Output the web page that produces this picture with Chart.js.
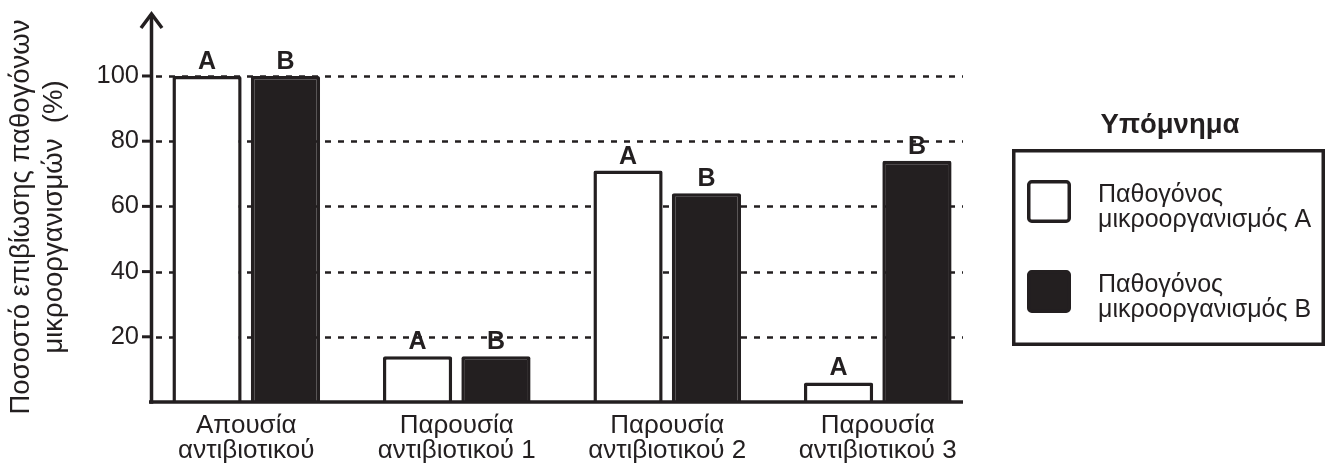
<!DOCTYPE html>
<html>
<head>
<meta charset="utf-8">
<script src="https://cdn.jsdelivr.net/npm/chart.js@4.4.1/dist/chart.umd.min.js"></script>
<style>
  html, body { margin: 0; padding: 0; background: #fff; }
  #chart { display: block; }
</style>
</head>
<body>
<canvas id="chart" width="1330" height="472"></canvas>
<script>
const categories = [
  ["Απουσία", "αντιβιοτικού"],
  ["Παρουσία", "αντιβιοτικού 1"],
  ["Παρουσία", "αντιβιοτικού 2"],
  ["Παρουσία", "αντιβιοτικού 3"],
];
const seriesA = [100, 14, 71, 6];
const seriesB = [100, 14, 64, 74];
const seriesNames = [
  ["Παθογόνος", "μικροοργανισμός Α"],
  ["Παθογόνος", "μικροοργανισμός Β"],
];
const barTags = ["A", "B"];
const yTicks = [20, 40, 60, 80, 100];
const yTitle = ["Ποσοστό επιβίωσης παθογόνων", "μικροοργανισμών  (%)"];
const legendTitle = "Υπόμνημα";

const ink = "#231f20";
const font = "'Liberation Sans', Arial, sans-serif";

// grid, axes with arrow, bar tags, y title and legend box
const decor = {
  id: "decor",
  beforeDatasetsDraw(chart) {
    const ctx = chart.ctx;
    const y = chart.scales.y;
    ctx.save();
    ctx.strokeStyle = ink;
    ctx.lineWidth = 2.5;
    ctx.setLineDash([6, 7]);
    yTicks.forEach((v) => {
      const py = Math.round(y.getPixelForValue(v)) + 0.5;
      ctx.beginPath();
      ctx.moveTo(156, py);
      ctx.lineTo(963, py);
      ctx.stroke();
    });
    ctx.restore();
  },
  afterDraw(chart) {
    const ctx = chart.ctx;
    const y = chart.scales.y;
    const y0 = y.getPixelForValue(0);
    const ax = 151.5;
    ctx.save();
    ctx.strokeStyle = ink;
    ctx.fillStyle = ink;

    // x axis
    ctx.lineWidth = 3.5;
    ctx.beginPath();
    ctx.moveTo(149, y0);
    ctx.lineTo(963, y0);
    ctx.stroke();
    // y axis + arrow
    ctx.beginPath();
    ctx.moveTo(ax, y0 + 1.7);
    ctx.lineTo(ax, 14);
    ctx.stroke();
    ctx.lineJoin = "miter";
    ctx.beginPath();
    ctx.moveTo(141, 28);
    ctx.lineTo(ax, 14);
    ctx.lineTo(162, 28);
    ctx.stroke();
    // tick marks
    ctx.lineWidth = 3;
    yTicks.forEach((v) => {
      const py = y.getPixelForValue(v);
      ctx.beginPath();
      ctx.moveTo(142, py);
      ctx.lineTo(ax, py);
      ctx.stroke();
    });

    // A / B over bars
    ctx.font = "bold 25px " + font;
    ctx.textAlign = "center";
    ctx.textBaseline = "alphabetic";
    chart.data.datasets.forEach((ds, i) => {
      chart.getDatasetMeta(i).data.forEach((bar) => {
        ctx.fillText(barTags[i], bar.x, bar.y - 7);
      });
    });

    // y title
    ctx.font = "27.5px " + font;
    ctx.save();
    ctx.translate(29, 217);
    ctx.rotate(-Math.PI / 2);
    ctx.fillText(yTitle[0], 0, 0);
    ctx.fillText(yTitle[1], 0, 33);
    ctx.restore();

    // legend
    ctx.lineWidth = 3.5;
    ctx.strokeRect(1013.75, 150.75, 309.5, 193.5);
    ctx.font = "bold 27.5px " + font;
    ctx.fillText(legendTitle, 1170, 133);
    ctx.textAlign = "left";
    ctx.font = "25px " + font;
    chart.data.datasets.forEach((ds, i) => {
      const top = 180 + i * 90;
      ctx.beginPath();
      ctx.roundRect(1028.75, top + 1.75, 40.5, 39.5, 3);
      ctx.fillStyle = ds.backgroundColor;
      ctx.fill();
      ctx.stroke();
      ctx.fillStyle = ink;
      ctx.fillText(seriesNames[i][0], 1098, top + 21.7);
      ctx.fillText(seriesNames[i][1], 1098, top + 46.7);
    });
    ctx.restore();
  },
};

new Chart(document.getElementById("chart"), {
  type: "bar",
  data: {
    labels: categories,
    datasets: [
      {
        label: seriesNames[0].join(" "),
        data: seriesA,
        backgroundColor: "#ffffff",
        borderColor: ink,
        borderWidth: 3.5,
        borderRadius: 2,
        categoryPercentage: 0.745,
        barPercentage: 0.883,
      },
      {
        label: seriesNames[1].join(" "),
        data: seriesB,
        backgroundColor: ink,
        borderColor: ink,
        borderWidth: 3.5,
        borderRadius: 2,
        categoryPercentage: 0.745,
        barPercentage: 0.883,
      },
    ],
  },
  options: {
    responsive: false,
    animation: false,
    devicePixelRatio: 1,
    layout: { padding: { left: 0, right: 347, top: 14, bottom: 0 } },
    plugins: { legend: { display: false }, tooltip: { enabled: false } },
    scales: {
      x: {
        grid: { display: false, drawTicks: false },
        border: { display: false },
        ticks: {
          color: ink,
          font: { family: font, size: 26, lineHeight: 0.98 },
          padding: 11,
          maxRotation: 0,
          autoSkip: false,
        },
        afterFit: (s) => { s.height = 70; },
      },
      y: {
        min: 0,
        max: 118,
        grid: { display: false, drawTicks: false },
        border: { display: false },
        afterBuildTicks: (s) => { s.ticks = yTicks.map((v) => ({ value: v })); },
        ticks: {
          color: ink,
          font: { family: font, size: 25.5 },
          padding: 2,
        },
        afterFit: (s) => { s.width = 141; },
      },
    },
  },
  plugins: [decor],
});
</script>
</body>
</html>
